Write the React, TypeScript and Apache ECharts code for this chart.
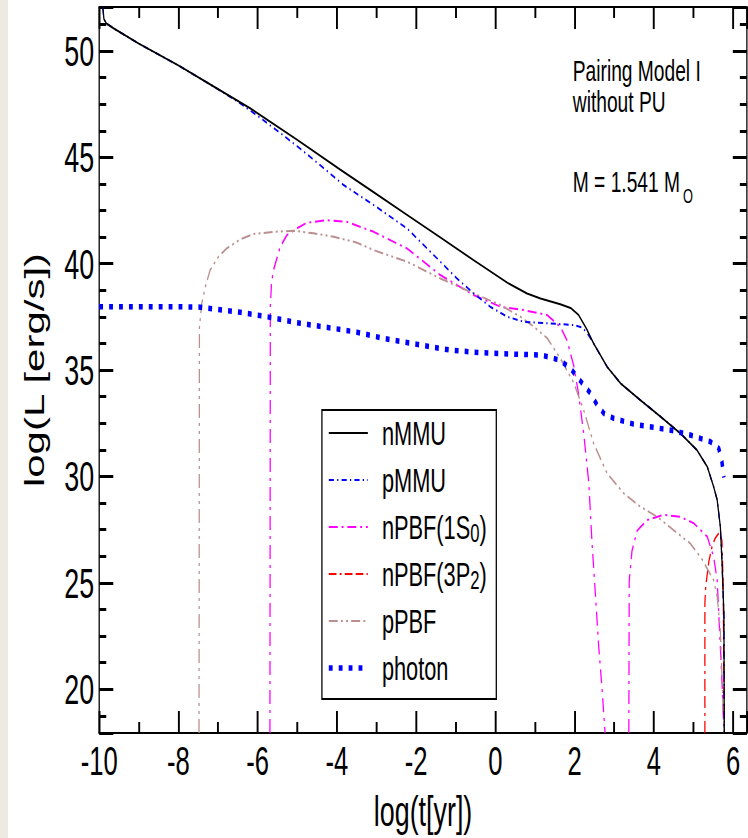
import { useEffect, useRef } from 'react';
import * as echarts from 'echarts';

// ---------- page / squeeze ----------
const FONT = "'Liberation Sans', Arial, Helvetica, sans-serif";
const SQUEEZE = 0.64; // the original figure is compressed horizontally
const PAGE_W = 748;
const PAGE_H = 838;
const CHART_W = Math.round(PAGE_W / SQUEEZE);

// ---------- axes ----------
const T_MIN = -10;
const T_MAX = 6.35;
const L_MIN = 17.94;
const L_MAX = 52.07;
const xTickStep = 2;

const xTitle = 'log(t[yr])';
const yTitle = 'log(L [erg/s])';

// ---------- series ----------
const seriesNames = ['nMMU', 'pMMU', 'nPBF(1S0)', 'nPBF(3P2)', 'pPBF', 'photon'];
const legendText: Record<string, string> = {
  'nMMU': 'nMMU',
  'pMMU': 'pMMU',
  'nPBF(1S0)': 'nPBF(1S{sub|0})',
  'nPBF(3P2)': 'nPBF(3P{sub|2})',
  'pPBF': 'pPBF',
  'photon': 'photon',
};

const nMMU: [number, number][] = [
  [-9.91, 52.07], [-9.88, 51.5], [-9.82, 51.3], [-9.64, 51.07], [-9, 50.35], [-7.98, 49.3],
  [-7.11, 48.33], [-6.19, 47.31], [-5, 45.82], [-3.91, 44.42], [-3.07, 43.36], [-2.23, 42.3],
  [-1.39, 41.24], [-0.55, 40.17], [0.3, 39.11], [0.8, 38.6], [1.14, 38.37], [1.64, 38.1],
  [1.9, 37.92], [2.1, 37.6], [2.3, 36.95], [2.48, 36.26], [2.82, 35.16], [3.16, 34.38],
  [3.66, 33.59], [4.17, 32.81], [4.67, 32.03], [5.09, 31.24], [5.35, 30.46], [5.51, 29.52],
  [5.6, 28.9], [5.68, 27.64], [5.72, 26.07], [5.77, 23.56], [5.78, 17.94],
];

const pMMU: [number, number][] = [
  [-9.91, 52.07], [-9.88, 51.5], [-9.82, 51.3], [-9.64, 51.07], [-9, 50.35], [-7.98, 49.3],
  [-7.11, 48.33], [-6.5, 47.62], [-6.0, 46.95], [-5.5, 46.25], [-4.92, 45.4], [-4.4, 44.6],
  [-3.83, 43.7], [-3.07, 42.76], [-2.23, 41.66], [-1.39, 40.1], [-0.97, 39.31], [-0.55, 38.61],
  [-0.13, 37.98], [0.3, 37.51], [0.72, 37.27], [1.31, 37.2], [1.98, 37.12], [2.2, 37.0],
  [2.35, 36.65], [2.48, 36.26], [2.82, 35.16], [3.16, 34.38], [3.66, 33.59], [4.17, 32.81],
  [4.67, 32.03], [5.09, 31.24], [5.35, 30.46], [5.51, 29.52], [5.6, 28.9], [5.68, 27.64],
  [5.72, 26.07], [5.77, 23.56], [5.78, 17.94],
];

const nPBF1S0: [number, number | null][] = [
  [-5.69, 17.94], [-5.68, 38.0], [-5.65, 39.1], [-5.6, 39.7], [-5.43, 40.8], [-5.26, 41.35],
  [-5.01, 41.66], [-4.76, 41.93], [-4.25, 42.05], [-3.75, 41.97], [-3.07, 41.5], [-2.23, 40.72],
  [-1.39, 39.47], [-0.55, 38.53], [0.13, 37.98], [0.72, 37.82], [1.31, 37.59], [1.64, 37.04],
  [1.81, 36.4], [1.98, 35.2], [2.1, 33.9], [2.23, 32.03], [2.36, 29.7], [2.44, 26.9],
  [2.53, 24.35], [2.61, 22.0], [2.69, 20.11], [2.77, 17.94],
  [3.0, null],
  [3.37, 17.94], [3.38, 25.1], [3.45, 26.5], [3.58, 27.45], [3.83, 27.95], [4.25, 28.2],
  [4.67, 28.1], [5.01, 27.8], [5.35, 27.17], [5.51, 26.23], [5.6, 25.13], [5.64, 23.56],
  [5.72, 20.43], [5.77, 17.94],
];

const nPBF3P2: [number, number][] = [
  [5.29, 17.94], [5.29, 24.0], [5.31, 24.82], [5.39, 26.0], [5.47, 26.7], [5.55, 27.1],
  [5.65, 27.36], [5.72, 27.0], [5.75, 25.1], [5.78, 17.94],
];

const pPBF: [number, number][] = [
  [-7.48, 17.94], [-7.47, 37.0], [-7.41, 38.14], [-7.32, 38.92], [-7.2, 39.7], [-6.99, 40.33],
  [-6.78, 40.72], [-6.44, 41.15], [-6.1, 41.4], [-5.6, 41.5], [-5.09, 41.55], [-4.59, 41.43],
  [-4.08, 41.27], [-3.49, 40.99], [-3.07, 40.64], [-2.23, 40.1], [-1.39, 39.31], [-0.55, 38.61],
  [0.13, 38.06], [0.63, 37.51], [0.97, 37.04], [1.31, 36.5], [1.64, 35.55], [1.98, 34.4],
  [2.23, 33.12], [2.48, 31.56], [2.82, 30.15], [3.24, 29.21], [3.66, 28.58], [4.08, 28.11],
  [4.5, 27.48], [4.92, 26.85], [5.22, 26.1], [5.51, 25.13], [5.6, 24.35], [5.68, 22.78],
  [5.77, 17.94],
];

const photon: [number, number][] = [
  [-10, 37.98], [-9, 37.98], [-8, 37.98], [-7.45, 37.96], [-6.44, 37.72], [-5.77, 37.51],
  [-4.92, 37.2], [-4.08, 36.96], [-3.49, 36.78], [-2.82, 36.49], [-1.89, 36.18], [-1.14, 35.94],
  [-0.38, 35.82], [0.46, 35.75], [1.14, 35.71], [1.39, 35.6], [1.64, 35.45], [1.89, 35.1],
  [2.06, 34.7], [2.23, 34.3], [2.4, 33.91], [2.57, 33.36], [2.74, 32.97], [2.99, 32.73],
  [3.49, 32.46], [3.99, 32.31], [4.5, 32.15], [4.92, 31.95], [5.43, 31.63], [5.64, 31.32],
  [5.72, 30.69], [5.77, 29.95],
];

const annotationText = 'Pairing Model I\nwithout PU';
const massText = 'M = 1.541 M';
const massSub = 'O';

function buildOption(): echarts.EChartsOption {
  const axisLineStyle = { color: '#000', width: 2 };
  const xTickStyle = { color: '#000', width: 3 };
  const yTickStyle = { color: '#000', width: 3 };
  const xCommon = {
    type: 'value' as const,
    min: T_MIN,
    max: T_MAX,
    interval: xTickStep,
    splitLine: { show: false },
    axisLine: { show: true, onZero: false, lineStyle: axisLineStyle },
    axisTick: { show: true, inside: true, length: 22, lineStyle: xTickStyle },
    minorTick: { show: true, splitNumber: 2, length: 11, lineStyle: xTickStyle },
  };
  const yCommon = {
    type: 'value' as const,
    min: L_MIN,
    max: L_MAX,
    splitNumber: 7,
    splitLine: { show: false },
    axisLine: { show: true, onZero: false, lineStyle: axisLineStyle },
    axisTick: { show: true, inside: true, length: 22, lineStyle: yTickStyle },
    minorTick: { show: true, splitNumber: 4, length: 11, lineStyle: yTickStyle },
  };

  const line = (
    name: string,
    data: any[],
    color: string,
    width: number,
    type: number[] | 'solid',
    z: number,
  ) => ({
    name,
    type: 'line' as const,
    data,
    showSymbol: false,
    symbol: 'none',
    smooth: false,
    connectNulls: false,
    z,
    lineStyle: { color, width, type, cap: 'butt' as const },
    itemStyle: { color },
  });

  return {
    animation: false,
    textStyle: { fontFamily: FONT },
    grid: {
      left: 155,
      right: CHART_W - 1167,
      top: 7,
      bottom: PAGE_H - 733,
      containLabel: false,
      outerBoundsMode: 'none',
    } as any,
    xAxis: [
      {
        ...xCommon,
        position: 'bottom',
        name: xTitle,
        nameLocation: 'middle',
        nameGap: 57,
        nameTextStyle: { fontSize: 42, color: '#000', fontFamily: FONT },
        axisLabel: {
          show: true,
          margin: 8,
          fontSize: 40,
          color: '#000',
          fontFamily: FONT,
          formatter: (v: number) => (Math.abs(v - Math.round(v)) < 1e-9 && Math.round(v) % 2 === 0 ? String(Math.round(v)) : ''),
        },
      },
      { ...xCommon, position: 'top', axisLabel: { show: false } },
    ],
    yAxis: [
      {
        ...yCommon,
        position: 'left',
        name: yTitle,
        nameLocation: 'middle',
        nameGap: 80,
        nameTextStyle: { fontSize: 42, color: '#000', fontFamily: FONT },
        axisLabel: {
          show: true,
          margin: 8,
          fontSize: 42,
          color: '#000',
          fontFamily: FONT,
          formatter: (v: number) => (Math.abs(v / 5 - Math.round(v / 5)) < 1e-9 ? String(Math.round(v)) : ''),
        },
      },
      { ...yCommon, position: 'right', axisLabel: { show: false } },
    ],
    legend: {
      show: true,
      orient: 'vertical',
      left: 503,
      top: 410,
      selectedMode: false,
      backgroundColor: '#fff',
      borderColor: '#000',
      borderWidth: 2,
      borderRadius: 0,
      padding: [4, 15, 12, 8],
      itemWidth: 61,
      itemHeight: 14,
      itemGap: 9,
      itemStyle: { color: 'rgba(0,0,0,0)', borderColor: 'rgba(0,0,0,0)', borderWidth: 0, opacity: 0 },
      textStyle: {
        fontSize: 34,
        lineHeight: 38,
        color: '#000',
        fontFamily: FONT,
        padding: [0, 0, 0, 17],
        rich: {
          sub: { fontSize: 26, lineHeight: 12, verticalAlign: 'bottom', color: '#000', fontFamily: FONT },
        },
      },
      formatter: (name: string) => legendText[name] ?? name,
      data: seriesNames.map((n) =>
        n === 'photon' ? { name: n, lineStyle: { width: 5.5 } } : { name: n },
      ) as any,
    },
    graphic: [
      {
        type: 'text',
        x: 895,
        y: 55,
        style: {
          text: annotationText,
          fontSize: 30,
          lineHeight: 31,
          fontFamily: FONT,
          fill: '#000',
          align: 'left',
          verticalAlign: 'top',
        },
      },
      {
        type: 'text',
        x: 895,
        y: 181,
        style: { text: massText, fontSize: 30, fontFamily: FONT, fill: '#000', align: 'left', verticalAlign: 'middle' },
      },
      {
        type: 'text',
        x: 1067,
        y: 196,
        style: { text: massSub, fontSize: 20, fontFamily: FONT, fill: '#000', align: 'left', verticalAlign: 'middle' },
      },
    ],
    series: [
      line('nMMU', nMMU, '#000000', 2, 'solid', 4),
      line('pMMU', pMMU, '#0000ff', 2, [8, 5, 2, 5], 3),
      line('nPBF(1S0)', nPBF1S0, '#ff00ff', 2, [14, 6, 3, 6], 2),
      line('nPBF(3P2)', nPBF3P2, '#ff0000', 2, [12, 5, 3, 5, 12, 5], 2),
      line('pPBF', pPBF, '#bc8f8f', 2, [14, 5, 3, 5, 3, 5], 2),
      line('photon', photon, '#0000ff', 5.5, [6, 9.5], 5),
    ],
  } as echarts.EChartsOption;
}

export default function App() {
  const ref = useRef<HTMLDivElement>(null);
  useEffect(() => {
    if (!ref.current) return;
    const chart = echarts.init(ref.current, null, { renderer: 'svg' });
    chart.setOption(buildOption());
    return () => chart.dispose();
  }, []);
  return (
    <div
      style={{
        position: 'fixed',
        left: 0,
        top: 0,
        width: PAGE_W,
        height: PAGE_H,
        overflow: 'hidden',
        background: '#fff',
      }}
    >
      <div style={{ position: 'absolute', left: 0, top: 0, width: 8, height: PAGE_H, background: '#eeeae2' }} />
      <div
        ref={ref}
        style={{
          position: 'absolute',
          left: 0,
          top: 0,
          width: CHART_W,
          height: PAGE_H,
          transform: `scaleX(${SQUEEZE})`,
          transformOrigin: '0 0',
        }}
      />
    </div>
  );
}
